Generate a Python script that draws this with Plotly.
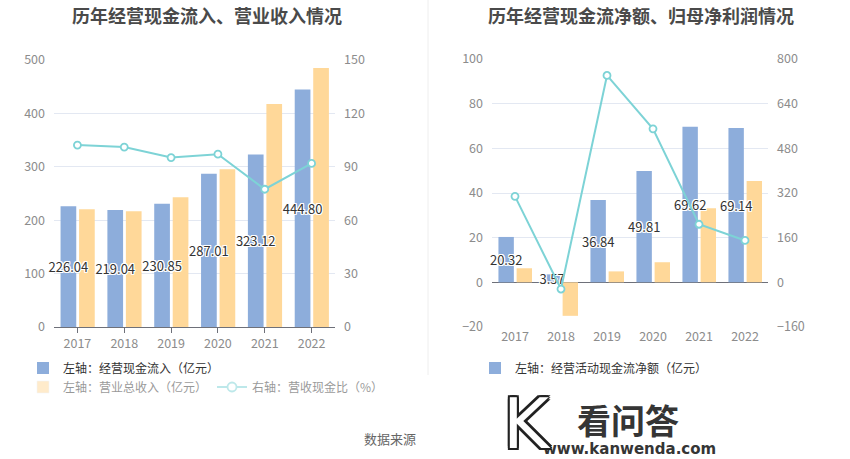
import plotly.graph_objects as go

years = ["2017", "2018", "2019", "2020", "2021", "2022"]

# Left chart
cash_inflow = [226.04, 219.04, 230.85, 287.01, 323.12, 444.80]
revenue = [220.6, 216.9, 243.0, 295.6, 417.5, 485.0]
cash_ratio = [102.2, 101.1, 95.2, 97.1, 77.4, 91.9]

# Right chart
net_cash = [20.32, 3.57, 36.84, 49.81, 69.62, 69.14]
net_profit = [6.3, -15.0, 4.9, 9.0, 33.2, 45.4]
net_cash_ratio = [308, -24, 741, 550, 208, 150]

left_y_ticks = [0, 100, 200, 300, 400, 500]
left_y2_ticks = [0, 30, 60, 90, 120, 150]
right_y_ticks = [-20, 0, 20, 40, 60, 80, 100]
right_y2_ticks = [-160, 0, 160, 320, 480, 640, 800]

BLUE = "#8daddb"
ORANGE = "#ffd899"
TEAL = "#7dd3d6"
GRID = "#e3e8f2"
TICK = "#8c8c8c"
FONT = "Noto Sans CJK SC"
W, H = 850, 459

def px(y):
    return 1 - y / H

shadow = ("-1px -1px 0 #fff, 1px -1px 0 #fff, -1px 1px 0 #fff, 1px 1px 0 #fff, "
          "0 1px 0 #fff, 0 -1px 0 #fff, 1px 0 0 #fff, -1px 0 0 #fff")

BW = 0.335
BLUE_OFF = -0.36
OR_OFF = 0.035

fig = go.Figure()

# ---- Left chart ----
fig.add_trace(go.Bar(
    x=years, y=revenue, name="左轴：营业总收入（亿元）",
    marker=dict(color=ORANGE, line=dict(width=0)), width=BW, offset=OR_OFF,
    xaxis="x", yaxis="y", showlegend=False,
))
fig.add_trace(go.Bar(
    x=years, y=cash_inflow, name="左轴：经营现金流入（亿元）",
    marker=dict(color=BLUE, line=dict(width=0)), width=BW, offset=BLUE_OFF,
    text=[f"{v:.2f}" for v in cash_inflow], textposition="inside",
    insidetextanchor="middle", constraintext="none", textangle=0, cliponaxis=False,
    textfont=dict(color="#333", size=13, family=FONT, shadow=shadow),
    xaxis="x", yaxis="y", legend="legend",
))
fig.add_trace(go.Scatter(
    x=years, y=cash_ratio, name="右轴：营收现金比（%）", mode="lines+markers",
    line=dict(color=TEAL, width=2),
    marker=dict(symbol="circle", size=7, color="white", line=dict(color=TEAL, width=1.8)),
    xaxis="x", yaxis="y2", showlegend=False,
))
# faded legend entries (second legend row)
fig.add_trace(go.Bar(
    x=years, y=revenue, name="左轴：营业总收入（亿元）",
    marker=dict(color=ORANGE), visible="legendonly",
    xaxis="x", yaxis="y", legend="legend2",
))
fig.add_trace(go.Scatter(
    x=years, y=cash_ratio, name="右轴：营收现金比（%）", mode="lines+markers",
    line=dict(color=TEAL, width=2),
    marker=dict(symbol="circle", size=9, color="white", line=dict(color=TEAL, width=1.8)),
    visible="legendonly", xaxis="x", yaxis="y2", legend="legend2",
))

# ---- Right chart ----
fig.add_trace(go.Bar(
    x=years, y=net_profit, name="左轴：归母净利润（亿元）",
    marker=dict(color=ORANGE, line=dict(width=0)), width=BW, offset=OR_OFF,
    xaxis="x3", yaxis="y3", showlegend=False,
))
fig.add_trace(go.Bar(
    x=years, y=net_cash, name="左轴：经营活动现金流净额（亿元）",
    marker=dict(color=BLUE, line=dict(width=0)), width=BW, offset=BLUE_OFF,
    text=[f"{v:.2f}" for v in net_cash], textposition="inside",
    insidetextanchor="middle", constraintext="none", textangle=0, cliponaxis=False,
    textfont=dict(color="#333", size=13, family=FONT, shadow=shadow),
    xaxis="x3", yaxis="y3", legend="legend3",
))
fig.add_trace(go.Scatter(
    x=years, y=net_cash_ratio, name="右轴：净现比（%）", mode="lines+markers",
    line=dict(color=TEAL, width=2),
    marker=dict(symbol="circle", size=7, color="white", line=dict(color=TEAL, width=1.8)),
    xaxis="x3", yaxis="y4", showlegend=False,
))

L_dom = [54 / W, 335 / W]
R_dom = [492 / W, 768 / W]
Y_dom = [px(327), px(60)]
RY_dom = [px(327), px(59)]

tickfont = dict(color=TICK, size=12.5, family=FONT)

fig.update_layout(
    width=W, height=H,
    margin=dict(l=0, r=0, t=0, b=0, pad=0, autoexpand=False),
    paper_bgcolor="white", plot_bgcolor="rgba(0,0,0,0)",
    barmode="overlay",
    font=dict(family=FONT, color="#333"),
    xaxis=dict(domain=L_dom, anchor="y", type="category", showgrid=False,
               showline=True, linecolor="#6e7079", linewidth=1,
               ticks="outside", ticklen=5, tickcolor="#6e7079",
               tickfont=tickfont, range=[-0.5, 5.5]),
    yaxis=dict(domain=Y_dom, anchor="x", range=[0, 500], tickvals=left_y_ticks,
               showgrid=True, gridcolor=GRID, zeroline=False, showline=False,
               tickfont=tickfont, ticks="", ticklabelstandoff=8),
    yaxis2=dict(overlaying="y", side="right", anchor="x", range=[0, 150],
                tickvals=left_y2_ticks, showgrid=False, zeroline=False,
                tickfont=tickfont, ticklabelstandoff=8),
    xaxis3=dict(domain=R_dom, anchor="y3", type="category", showgrid=False,
                showline=False, ticks="", tickfont=tickfont, range=[-0.5, 5.5]),
    yaxis3=dict(domain=RY_dom, anchor="x3", range=[-20, 100], tickvals=right_y_ticks,
                showgrid=True, gridcolor=GRID, zeroline=True, zerolinecolor="#6e7079",
                zerolinewidth=1, tickfont=tickfont, ticklabelstandoff=8),
    yaxis4=dict(overlaying="y3", side="right", anchor="x3", range=[-160, 800],
                tickvals=right_y2_ticks, showgrid=False, zeroline=False,
                tickfont=tickfont, ticklabelstandoff=8),
    xaxis5=dict(overlaying="x3", anchor="free",
                position=RY_dom[0] + (RY_dom[1] - RY_dom[0]) * 20 / 120,
                range=[-0.5, 5.5], tickvals=[0, 1, 2, 3, 4, 5],
                showticklabels=False, ticks="outside", ticklen=5,
                tickcolor="#6e7079", showline=True, linecolor="#6e7079",
                showgrid=False, zeroline=False),
    legend=dict(x=23 / W, y=px(368), xanchor="left", yanchor="middle",
                orientation="h", font=dict(size=12, color="#333", family=FONT),
                bgcolor="rgba(0,0,0,0)", itemclick=False),
    legend2=dict(x=23 / W, y=px(387), xanchor="left", yanchor="middle",
                 orientation="h", font=dict(size=12, color="#333", family=FONT),
                 bgcolor="rgba(0,0,0,0)", itemclick=False),
    legend3=dict(x=475 / W, y=px(368), xanchor="left", yanchor="middle",
                 orientation="h", font=dict(size=12, color="#333", family=FONT),
                 bgcolor="rgba(0,0,0,0)", itemclick=False),
    showlegend=True,
)

def note(text, x, y, size, color, family=FONT, **kw):
    fig.add_annotation(text=text, x=x / W, y=px(y), xref="paper", yref="paper",
                       xanchor="center", yanchor="middle", showarrow=False,
                       font=dict(size=size, color=color, family=family, **kw))

note("<b>历年经营现金流入、营业收入情况</b>", 207, 15, 18, "#4a4a4a")
note("<b>历年经营现金流净额、归母净利润情况</b>", 641, 15, 18, "#4a4a4a")
note("数据来源", 390, 438, 13, "#666")

# divider
fig.add_shape(type="line", xref="paper", yref="paper", x0=428 / W, x1=428 / W,
              y0=px(375), y1=1, line=dict(color="#eeeeee", width=1))

# watermark
note("<b>看问答</b>", 628, 419, 34, "#353535")
note("<b>www.kanwenda.com</b>", 629, 449, 15, "#353535", family="DejaVu Sans")
note("K", 527, 424, 70, "white", family="DejaVu Sans",
     shadow="2px 0 0 #222, -2px 0 0 #222, 0 2px 0 #222, 0 -2px 0 #222, "
            "2px 2px 0 #222, -2px -2px 0 #222, 2px -2px 0 #222, -2px 2px 0 #222")

fig.write_html("out.html", config={"displayModeBar": False},
               post_script="document.body.style.margin='0px';document.body.style.overflow='hidden';")
